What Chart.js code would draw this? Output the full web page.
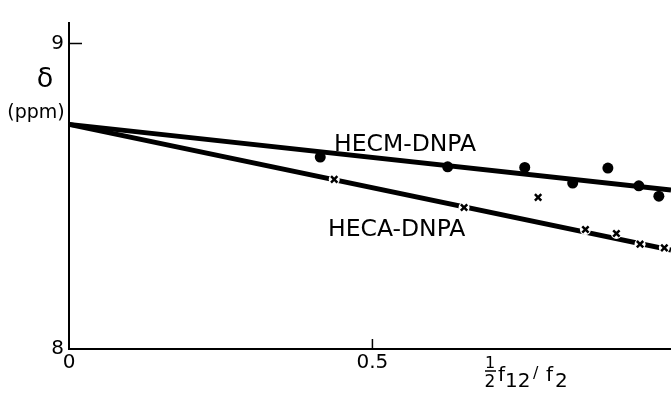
<!DOCTYPE html>
<html>
<head>
<meta charset="utf-8">
<script src="https://cdn.jsdelivr.net/npm/chart.js@4.4.1/dist/chart.umd.min.js"></script>
<style>
  html, body { margin: 0; padding: 0; background: #fff; overflow: hidden; }
  #wrap { width: 671px; height: 394px; position: relative; }
  #nmr { display: block; }
</style>
</head>
<body>
<div id="wrap"><canvas id="nmr"></canvas></div>
<script>
// values (x = 1/2 f12/f2, y = delta in ppm)
const hecmX = [0.414, 0.624, 0.751, 0.830, 0.888, 0.939, 0.972];
const hecmY = [8.628, 8.596, 8.594, 8.543, 8.592, 8.534, 8.500];
const hecaX = [0.437, 0.651, 0.773, 0.851, 0.902, 0.941, 0.981];
const hecaY = [8.555, 8.463, 8.496, 8.391, 8.378, 8.343, 8.331];

// fitted straight lines (start, end)
const fitX = [0, 0.992];
const hecmFitY = [8.735, 8.520];
const hecaFitY = [8.735, 8.324];

const xTicks = [0, 0.5];
const xTickLabels = ['0', '0.5'];
const yTicks = [8, 9];
const yTickLabels = ['8', '9'];

const FONT = '"DejaVu Sans", sans-serif';
const pts = (xs, ys) => xs.map((x, i) => ({ x, y: ys[i] }));

// axes, inward tick marks and the free text of the figure
const figureText = {
  id: 'figureText',
  afterDatasetsDraw(chart) {
    const { ctx, chartArea: a, scales: { x, y } } = chart;
    ctx.save();
    ctx.strokeStyle = '#000';
    ctx.lineWidth = 2;
    ctx.beginPath();
    ctx.moveTo(a.left, a.top);
    ctx.lineTo(a.left, a.bottom);
    ctx.lineTo(a.right, a.bottom);
    ctx.stroke();
    // tick marks pointing into the plot
    ctx.lineWidth = 1.5;
    ctx.beginPath();
    const y9 = y.getPixelForValue(9);
    ctx.moveTo(a.left, y9); ctx.lineTo(a.left + 13, y9);
    const x5 = x.getPixelForValue(0.5);
    ctx.moveTo(x5, a.bottom); ctx.lineTo(x5, a.bottom - 10);
    ctx.stroke();

    ctx.fillStyle = '#000';
    ctx.textBaseline = 'middle';
    ctx.textAlign = 'center';
    ctx.font = '27px ' + FONT;
    ctx.fillText('δ', 45, 80);
    ctx.font = '19px ' + FONT;
    ctx.fillText('(ppm)', 36, 113);

    ctx.textAlign = 'left';
    ctx.font = '23.5px ' + FONT;
    ctx.fillText('HECM-DNPA', 334, 145);
    ctx.fillText('HECA-DNPA', 328, 230);

    // x-axis title: 1/2 f12/f2
    ctx.textBaseline = 'alphabetic';
    ctx.textAlign = 'center';
    ctx.font = '16px ' + FONT;
    ctx.fillText('1', 490, 368);
    ctx.font = '17px ' + FONT;
    ctx.fillText('2', 490, 387);
    ctx.lineWidth = 1.5;
    ctx.beginPath();
    ctx.moveTo(485, 371); ctx.lineTo(496, 371);
    ctx.stroke();
    ctx.textAlign = 'left';
    ctx.font = '20px ' + FONT;
    ctx.fillText('f', 498, 381);
    ctx.fillText('12', 505, 387);
    ctx.fillText('f', 546, 381);
    ctx.fillText('2', 555, 387);
    ctx.font = '16px ' + FONT;
    ctx.fillText('/', 533, 378);
    ctx.restore();
  }
};

new Chart(document.getElementById('nmr'), {
  type: 'scatter',
  data: {
    datasets: [
      {
        type: 'line', label: 'HECM-DNPA fit', data: pts(fitX, hecmFitY),
        borderColor: '#000', borderWidth: 5, pointRadius: 0, order: 3,
      },
      {
        type: 'line', label: 'HECA-DNPA fit', data: pts(fitX, hecaFitY),
        borderColor: '#000', borderWidth: 5, pointRadius: 0, order: 3,
      },
      {
        // white gap the crosses leave in the line
        label: 'HECA-DNPA gap', data: pts(hecaX, hecaY),
        pointStyle: 'circle', pointRadius: 5.5, borderWidth: 0,
        backgroundColor: '#fff', borderColor: '#fff', order: 2,
      },
      {
        label: 'HECM-DNPA', data: pts(hecmX, hecmY),
        pointStyle: 'circle', pointRadius: 5.5, borderWidth: 0,
        backgroundColor: '#000', borderColor: '#000', order: 1,
      },
      {
        label: 'HECA-DNPA', data: pts(hecaX, hecaY),
        pointStyle: 'crossRot', pointRadius: 4.5, borderWidth: 2.5,
        borderColor: '#000', backgroundColor: '#000', order: 1,
      },
    ],
  },
  options: {
    responsive: true,
    maintainAspectRatio: false,
    animation: false,
    clip: false,
    layout: { autoPadding: false, padding: { top: 22, right: 0, left: 0, bottom: 0 } },
    plugins: { legend: { display: false }, tooltip: { enabled: false } },
    scales: {
      x: {
        type: 'linear', min: 0, max: 0.992,
        afterBuildTicks: s => { s.ticks = xTicks.map(v => ({ value: v })); },
        afterFit: s => { s.height = 45; },
        grid: { display: false, drawTicks: false },
        border: { display: false },
        ticks: {
          color: '#000', font: { family: FONT, size: 20 }, padding: 2,
          maxRotation: 0, autoSkip: false,
          callback: v => xTickLabels[xTicks.indexOf(v)],
        },
      },
      y: {
        type: 'linear', min: 8, max: 9.07,
        afterBuildTicks: s => { s.ticks = yTicks.map(v => ({ value: v })); },
        afterFit: s => { s.width = 69; },
        grid: { display: false, drawTicks: false },
        border: { display: false },
        ticks: {
          color: '#000', font: { family: FONT, size: 20 }, padding: 5,
          callback: v => yTickLabels[yTicks.indexOf(v)],
        },
      },
    },
  },
  plugins: [figureText],
});
</script>
</body>
</html>
